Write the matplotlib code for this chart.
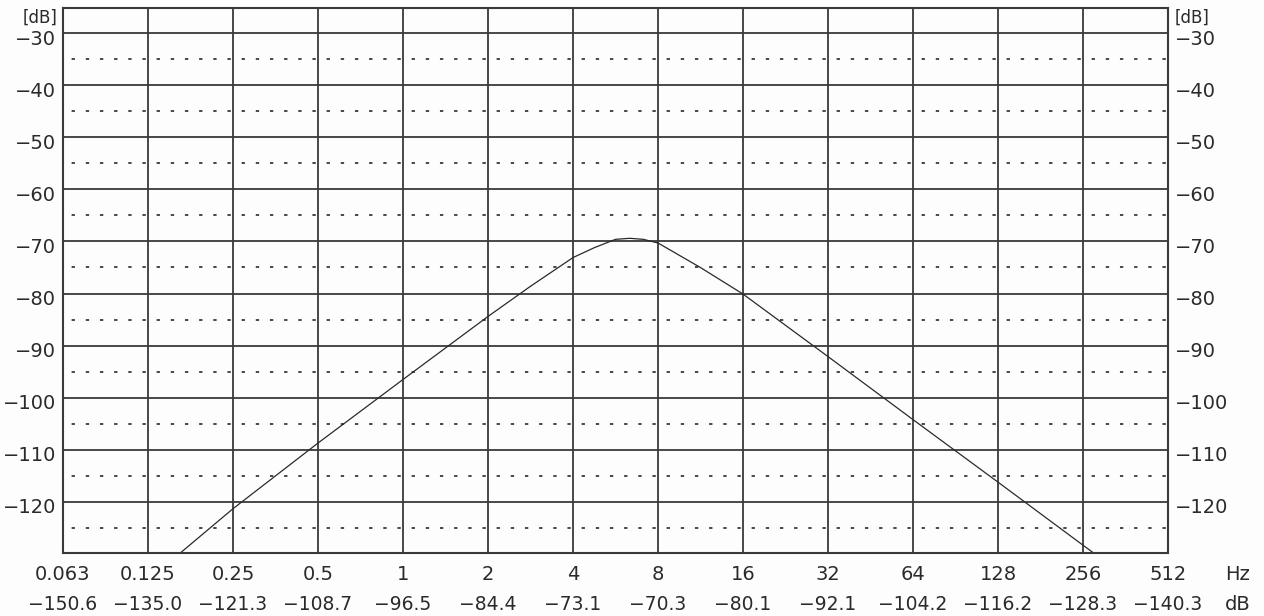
import numpy as np
import matplotlib.pyplot as plt
import matplotlib.transforms as mtransforms

plt.rcParams['lines.scale_dashes'] = False

# ==============================================================================
# Data
# ==============================================================================
freq_ticks = [0.0625, 0.125, 0.25, 0.5, 1, 2, 4, 8, 16, 32, 64, 128, 256, 512]
freq_labels = ['0.063', '0.125', '0.25', '0.5', '1', '2', '4', '8', '16',
               '32', '64', '128', '256', '512']
level_labels = ['-150.6', '-135.0', '-121.3', '-108.7', '-96.5', '-84.4', '-73.1',
                '-70.3', '-80.1', '-92.1', '-104.2', '-116.2', '-128.3', '-140.3']

# curve: octave values plus a few points around the peak
curve_f = [0.0625, 0.125, 0.25, 0.5, 1, 2, 2.83, 4, 4.76, 5.3, 5.66, 6.35,
           7.1, 8, 11.3, 16, 32, 64, 128, 256, 512]
curve_db = [-150.6, -135.0, -121.3, -108.7, -96.5, -84.4, -78.6, -73.1, -71.2,
            -70.2, -69.6, -69.4, -69.6, -70.3, -75.0, -80.1, -92.1, -104.2,
            -116.2, -128.3, -140.3]

major_db = [-120, -110, -100, -90, -80, -70, -60, -50, -40, -30]
minor_db = [-125, -115, -105, -95, -85, -75, -65, -55, -45, -35]

line_col = '#3a3a3a'
text_col = '#2a2a2a'
font_size = 14


def minus(s):
    # the reference draws a wide minus sign
    return s.replace('-', '\u2212')


# ==============================================================================
# Figure
# ==============================================================================
fig = plt.figure(figsize=(12.64, 6.16), dpi=100, facecolor='#fdfdfd')
ax = fig.add_axes([63 / 1264, 1 - 553 / 616, (1168 - 63) / 1264, (553 - 8) / 616])
ax.set_facecolor('#fdfdfd')

ax.set_xscale('log', base=2)
ax.set_xlim(freq_ticks[0], freq_ticks[-1])
ax.set_ylim(-129.8, -25.2)

# grid
for f in freq_ticks[1:-1]:
    ax.axvline(f, color=line_col, lw=1.3, zorder=1)
for v in major_db:
    ax.axhline(v, color=line_col, lw=1.3, zorder=1)
for v in minor_db:
    ax.axhline(v, color=line_col, lw=1.3, ls=(4, (2.4, 7.8)), zorder=1)

ax.plot(curve_f, curve_db, color='#2a2a2a', lw=0.9, zorder=2)

for s in ax.spines.values():
    s.set_color(line_col)
    s.set_linewidth(1.5)

ax.set_xticks([])
ax.set_xticks([], minor=True)
ax.set_yticks(major_db)
ax.set_yticklabels([minus(str(v)) for v in major_db])
ax.tick_params(axis='y', length=0, labelsize=font_size, labelcolor=text_col,
               left=False, right=False, labelleft=True, labelright=True, pad=5)

# labels sit a little below their grid line
shift = mtransforms.ScaledTranslation(0, -4 / 100, fig.dpi_scale_trans)
for tick in ax.yaxis.get_major_ticks():
    tick.label1.set_transform(tick.label1.get_transform() + shift)
    tick.label2.set_transform(tick.label2.get_transform() + shift)

# unit labels above the -30 tick
ax.text(-0.005, 0.982, '[dB]', transform=ax.transAxes, ha='right', va='center',
        fontsize=font_size - 2, color=text_col)
ax.text(1.006, 0.982, '[dB]', transform=ax.transAxes, ha='left', va='center',
        fontsize=font_size - 2, color=text_col)

# two rows of x labels
trans = mtransforms.blended_transform_factory(ax.transData, fig.transFigure)
for f, l1, l2 in zip(freq_ticks, freq_labels, level_labels):
    ax.text(f, 1 - 575 / 616, l1, transform=trans, ha='center', va='center',
            fontsize=font_size, color=text_col)
    ax.text(f, 1 - 604 / 616, minus(l2), transform=trans, ha='center', va='center',
            fontsize=font_size - 0.5, color=text_col)
fig.text(1238 / 1264, 1 - 575 / 616, 'Hz', ha='center', va='center',
         fontsize=font_size, color=text_col)
fig.text(1238 / 1264, 1 - 604 / 616, 'dB', ha='center', va='center',
         fontsize=font_size, color=text_col)

plt.savefig('out.png', dpi=100, facecolor=fig.get_facecolor())
plt.close()
